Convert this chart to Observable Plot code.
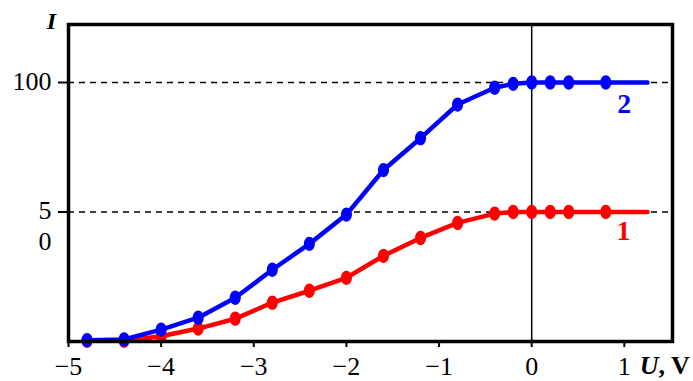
<!DOCTYPE html>
<html>
<head>
<meta charset="utf-8">
<script src="https://cdn.jsdelivr.net/npm/d3@7"></script>
<script src="https://cdn.jsdelivr.net/npm/@observablehq/plot@0.6"></script>
<style>
  html, body { margin: 0; padding: 0; background: white; }
</style>
</head>
<body>
<div id="chart"></div>
<script>
// Data
const U = [-4.8, -4.4, -4.0, -3.6, -3.2, -2.8, -2.4, -2.0, -1.6, -1.2, -0.8, -0.4, -0.2, 0, 0.2, 0.4, 0.8];
const I1 = [0.3, 0.3, 2, 5, 8.8, 15, 19.6, 24.6, 33.1, 40, 45.8, 49.4, 50, 50, 50, 50, 50];
const I2 = [0.5, 0.8, 4.6, 9.2, 16.9, 27.7, 37.7, 49, 66.2, 78.5, 91.5, 98, 99.5, 100, 100, 100, 100];
const lineEndU = 1.25;
const lineEndI1 = 50;
const lineEndI2 = 100;

const xTicks = [-5, -4, -3, -2, -1, 0, 1];
const xTickLabels = ["\u22125", "\u22124", "\u22123", "\u22122", "\u22121", "0", "1"];
const yTicks = [50, 100];
const yTickLabels = ["5\n0", "100"];
const refLines = [50, 100];

const seriesNames = ["1", "2"];
const seriesColors = ["#ff0000", "#0000ff"];
const seriesLabelU = [0.99, 1.0];
const seriesLabelI = [42.7, 91.5];

const s1 = U.map((u, i) => ({u, v: I1[i]}));
const s2 = U.map((u, i) => ({u, v: I2[i]}));
const l1 = [...s1, {u: lineEndU, v: lineEndI1}];
const l2 = [...s2, {u: lineEndU, v: lineEndI2}];

// ellipse symbol (taller than wide)
const ellipse = {
  draw(context, size) {
    const r = Math.sqrt(size / Math.PI);
    const rx = r * 0.85, ry = r * 1.1, k = 0.5523;
    context.moveTo(rx, 0);
    context.bezierCurveTo(rx, ry * k, rx * k, ry, 0, ry);
    context.bezierCurveTo(-rx * k, ry, -rx, ry * k, -rx, 0);
    context.bezierCurveTo(-rx, -ry * k, -rx * k, -ry, 0, -ry);
    context.bezierCurveTo(rx * k, -ry, rx, -ry * k, rx, 0);
    context.closePath();
  }
};

const font = "'Liberation Serif', 'Times New Roman', serif";

const chart = Plot.plot({
  width: 693,
  height: 381,
  marginLeft: 68,
  marginRight: 21,
  marginTop: 24,
  marginBottom: 40,
  x: {domain: [-5, 1.52], label: null},
  y: {domain: [0, 122.4], label: null},
  style: {fontFamily: font, background: "white", color: "black"},
  marks: [
    Plot.ruleY(refLines, {stroke: "black", strokeWidth: 1.5, strokeDasharray: "6,5"}),
    Plot.ruleX([0], {stroke: "black", strokeWidth: 1.5}),
    Plot.line(l1, {x: "u", y: "v", stroke: seriesColors[0], strokeWidth: 4.5}),
    Plot.dot(s1, {x: "u", y: "v", fill: seriesColors[0], r: 6.5, symbol: ellipse}),
    Plot.line(l2, {x: "u", y: "v", stroke: seriesColors[1], strokeWidth: 4.5}),
    Plot.dot(s2, {x: "u", y: "v", fill: seriesColors[1], r: 6.5, symbol: ellipse}),
    Plot.frame({stroke: "black", strokeWidth: 3.5}),
    Plot.axisX(xTicks, {
      tickSize: 6, tickPadding: 9, strokeWidth: 2, fontSize: 26, label: null,
      tickFormat: d => xTickLabels[xTicks.indexOf(d)]
    }),
    Plot.axisY(yTicks, {tickSize: 10, strokeWidth: 2, label: null, tickFormat: () => ""}),
    Plot.text(yTicks, {
      y: d => d, frameAnchor: "left",
      text: d => yTickLabels[yTicks.indexOf(d)],
      textAnchor: "end", lineAnchor: "top", dx: -17, dy: -15,
      lineHeight: 1.2, fontSize: 26, fill: "black"
    }),
    Plot.text(["I"], {
      frameAnchor: "top-left", dx: -17, dy: -3, textAnchor: "middle", lineAnchor: "middle",
      fontSize: 24, fontStyle: "italic", fontWeight: "bold", fill: "black"
    }),
    Plot.text(["U"], {
      frameAnchor: "bottom-right", dx: -14, dy: 24, textAnchor: "end", lineAnchor: "middle",
      fontSize: 26, fontStyle: "italic", fontWeight: "bold", fill: "black"
    }),
    Plot.text([", V"], {
      frameAnchor: "bottom-right", dx: -14, dy: 24, textAnchor: "start", lineAnchor: "middle",
      fontSize: 26, fontWeight: "bold", fill: "black"
    }),
    Plot.text(seriesNames, {
      x: (d, i) => seriesLabelU[i], y: (d, i) => seriesLabelI[i],
      text: d => d, fill: (d, i) => seriesColors[i],
      fontSize: 28, fontWeight: "bold", textAnchor: "middle", lineAnchor: "middle"
    })
  ]
});
document.getElementById("chart").appendChild(chart);
</script>
</body>
</html>
